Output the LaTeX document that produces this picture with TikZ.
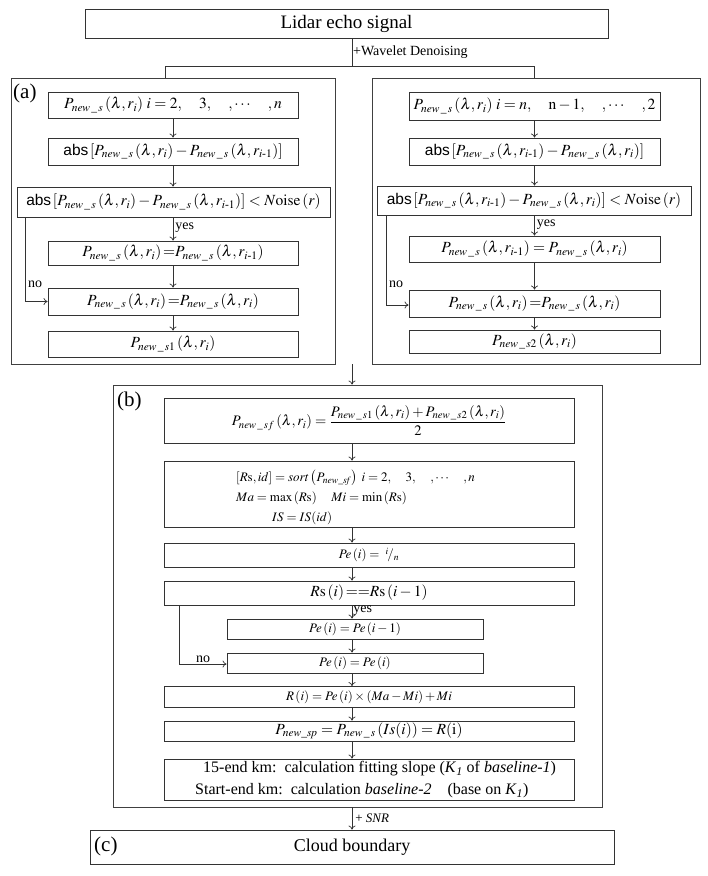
\documentclass[tikz,border=0pt]{standalone}
\usepackage{amsmath}
\usepackage{mathptmx}
\usepackage[no-math]{fontspec}
\setmainfont{Liberation Serif}
\newfontfamily\absfont{Liberation Sans}
\usetikzlibrary{arrows.meta,calc}
\newcommand{\Pn}[1]{P_{\mathit{new}\,\_\,#1}}
\newcommand{\lr}[1]{\left(\lambda,#1\right)}
\newcommand{\absw}{\mbox{\absfont abs}}
\newcommand{\rim}{r_{i\text{-}1}}
\tikzset{
  box/.style={draw=black!80, line width=0.9pt, inner sep=0pt, anchor=center, font=\fontsize{15.5}{17}\selectfont},
  sbox/.style={box, font=\fontsize{13}{15}\selectfont},
  panel/.style={draw=black!75, line width=0.9pt, inner sep=0pt, anchor=center},
  conn/.style={draw=black!80, line width=0.7pt},
  arr/.style={conn, -{To[length=4pt,width=7pt]}},
  lbl/.style={inner sep=0pt, font=\fontsize{14}{16}\selectfont},
  tag/.style={inner sep=0pt, anchor=north west, font=\fontsize{21}{23}\selectfont},
}
\begin{document}
\begin{tikzpicture}[x=1pt,y=-1pt]
\useasboundingbox (0,0) rectangle (708,876);
% top
\node[box, minimum width=523pt, minimum height=29pt, font=\fontsize{19}{21}\selectfont] (L) at (346.5,23.5) {Lidar echo signal};
\coordinate (split) at (352,66);
\coordinate (ja) at (165,66);
\coordinate (jb) at (534,66);
\node[lbl, anchor=west, font=\fontsize{14}{16}\selectfont] (wd) at (353,52) {+Wavelet Denoising};
% panels
\node[panel, minimum width=324pt, minimum height=286pt] (pa) at (173,221) {};
\node[panel, minimum width=328pt, minimum height=286pt] (pr) at (536,221) {};
\node[tag] (ta) at (13,84) {(a)};
\draw[conn] (L.south -| split) -- (split);
\draw[conn] (ja) -- (jb);
\draw[conn] (ja) -- (pa.north -| ja);
\draw[conn] (jb) -- (pr.north -| jb);
% left column
\node[box, minimum width=250pt, minimum height=26pt] (A1) at (173,105) {$\Pn{s}\lr{r_i}\,i=2,\quad 3,\quad ,\cdots\quad ,n$};
\node[box, minimum width=250pt, minimum height=27pt] (A2) at (173,151.5) {$\absw\left[\Pn{s}\lr{r_i}-\Pn{s}\lr{\rim}\right]$};
\node[box, minimum width=313pt, minimum height=30pt] (A3) at (173.5,202) {$\absw\left[\Pn{s}\lr{r_i}-\Pn{s}\lr{\rim}\right]<N\mathrm{oise}\left(r\right)$};
\node[box, minimum width=250pt, minimum height=24pt] (A4) at (173,253) {$\Pn{s}\lr{r_i}{=}\Pn{s}\lr{\rim}$};
\node[box, minimum width=250pt, minimum height=27pt] (A5) at (173,301.5) {$\Pn{s}\lr{r_i}{=}\Pn{s}\lr{r_i}$};
\node[box, minimum width=250pt, minimum height=26pt] (A6) at (173,344) {$\Pn{s1}\lr{r_i}$};
\draw[arr] (A1) -- (A2);
\draw[arr] (A2) -- (A3.north -| A2);
\draw[arr] (A3.south -| A4) -- (A4) node[lbl, pos=0.45, anchor=west, xshift=2pt] (ya) {yes};
\draw[arr] (A4) -- (A5);
\draw[arr] (A5) -- (A6);
\coordinate (na) at (25,301.5);
\draw[arr] (A3.south -| na) -- (na) -- (A5.west);
\node[lbl, anchor=south west] (noa) at (28,288) {no};
% right column
\node[box, minimum width=251pt, minimum height=28pt] (B1) at (534.5,106) {$\Pn{s}\lr{r_i}\,i=n,\quad \mathrm{n}-1,\quad ,\cdots\quad ,2$};
\node[box, minimum width=251pt, minimum height=27pt] (B2) at (534.5,151.5) {$\absw\left[\Pn{s}\lr{\rim}-\Pn{s}\lr{r_i}\right]$};
\node[box, minimum width=314pt, minimum height=29pt] (B3) at (534,200.5) {$\absw\left[\Pn{s}\lr{\rim}-\Pn{s}\lr{r_i}\right]<N\mathrm{oise}\left(r\right)$};
\node[box, minimum width=251pt, minimum height=26pt] (B4) at (534.5,249) {$\Pn{s}\lr{\rim}=\Pn{s}\lr{r_i}$};
\node[box, minimum width=251pt, minimum height=27pt] (B5) at (534.5,303.5) {$\Pn{s}\lr{r_i}{=}\Pn{s}\lr{r_i}$};
\node[box, minimum width=251pt, minimum height=23pt] (B6) at (534.5,341.5) {$\Pn{s2}\lr{r_i}$};
\draw[arr] (B1) -- (B2);
\draw[arr] (B2) -- (B3.north -| B2);
\draw[arr] (B3.south -| B4) -- (B4) node[lbl, pos=0.45, anchor=west, xshift=2pt] (yb) {yes};
\draw[arr] (B4) -- (B5);
\draw[arr] (B5) -- (B6);
\coordinate (nb) at (386,305);
\draw[arr] (B3.south -| nb) -- (nb) -- (B5.west |- nb);
\node[lbl, anchor=south west] (nob) at (389,288) {no};
% panel b
\node[panel, minimum width=489pt, minimum height=422pt] (pb) at (357.5,596) {};
\node[tag] (tb) at (117,392) {(b)};
\coordinate (colb) at (352,0);
\coordinate (pbot) at (352,364);
\draw[arr] (pbot) -- (pb.north -| colb);
\node[box, minimum width=410pt, minimum height=45pt, font=\fontsize{14.5}{16}\selectfont] (C1) at (369,420.5) {$\Pn{sf}\lr{r_i}=\dfrac{\Pn{s1}\lr{r_i}+\Pn{s2}\lr{r_i}}{2}$};
\node[box, minimum width=410pt, minimum height=66pt] (C2) at (369,494) {};
\node[lbl, anchor=west, font=\fontsize{13}{15}\selectfont] (C2a) at (236,478) {$\left[R\mathrm{s},id\right]=sort\left(P_{\mathit{new}\_\mathit{sf}}\right)\;i=2,\quad 3,\quad ,\cdots\quad ,n$};
\node[lbl, anchor=west, font=\fontsize{13}{15}\selectfont] (C2b) at (236,498) {$Ma=\max\left(R\mathrm{s}\right)\quad Mi=\min\left(R\mathrm{s}\right)$};
\node[lbl, anchor=west, font=\fontsize{13}{15}\selectfont] (C2c) at (272,518) {$IS=IS(id)$};
\node[sbox, minimum width=410pt, minimum height=24pt] (C3) at (369,555) {$Pe\left(i\right)=\ {}^{i}\!/_{n}$};
\node[box, minimum width=410pt, minimum height=24pt] (C4) at (369,593) {$R\mathrm{s}\left(i\right){=}{=}R\mathrm{s}\left(i-1\right)$};
\node[sbox, minimum width=256pt, minimum height=20pt] (C5) at (355,629) {$Pe\left(i\right)=Pe\left(i-1\right)$};
\node[sbox, minimum width=256pt, minimum height=20pt] (C6) at (355,663) {$Pe\left(i\right)=Pe\left(i\right)$};
\node[sbox, minimum width=410pt, minimum height=21pt] (C7) at (369,697) {$R\left(i\right)=Pe\left(i\right)\times\left(Ma-Mi\right)+Mi$};
\node[box, minimum width=410pt, minimum height=20pt] (C8) at (369,731) {$P_{\mathit{new}\_\mathit{sp}}=\Pn{s}\left(Is(i)\right)=R(\mathrm{i})$};
\node[box, minimum width=410pt, minimum height=41pt] (C9) at (369,779.5) {};
\node[lbl, anchor=west, font=\fontsize{16}{18}\selectfont] (C9a) at (203,769) {15-end km:\, calculation fitting slope (\textit{K}\textsubscript{\textit{1}} of \textit{baseline-1})};
\node[lbl, anchor=west, font=\fontsize{16}{18}\selectfont] (C9b) at (195,791) {Start-end km:\, calculation \textit{baseline-2}\quad (base on \textit{K}\textsubscript{\textit{1}})};
\draw[arr] (C1.south -| colb) -- (C2.north -| colb);
\draw[arr] (C2.south -| colb) -- (C3.north -| colb);
\draw[arr] (C3.south -| colb) -- (C4.north -| colb);
\draw[arr] (C4.south -| colb) -- (C5.north -| colb) node[lbl, pos=0.4, anchor=west, xshift=1pt] (yc) {yes};
\draw[arr] (C5.south -| colb) -- (C6.north -| colb);
\draw[arr] (C6.south -| colb) -- (C7.north -| colb);
\draw[arr] (C7.south -| colb) -- (C8.north -| colb);
\draw[arr] (C8.south -| colb) -- (C9.north -| colb);
\coordinate (nc) at (179,664);
\draw[arr] (C4.south -| nc) -- (nc) -- (C6.west |- nc);
\node[lbl, anchor=south west] (noc) at (196,663) {no};
% c
\node[box, minimum width=524pt, minimum height=34pt, font=\fontsize{18}{20}\selectfont] (Cb) at (352,847) {Cloud boundary};
\node[tag] (tc) at (94,837) {(c)};
\draw[arr] (pb.south -| colb) -- (Cb.north -| colb) node[lbl, midway, anchor=west, xshift=3pt, font=\fontsize{13}{15}\selectfont] (snr) {+ \textit{SNR}};
\end{tikzpicture}
\end{document}
